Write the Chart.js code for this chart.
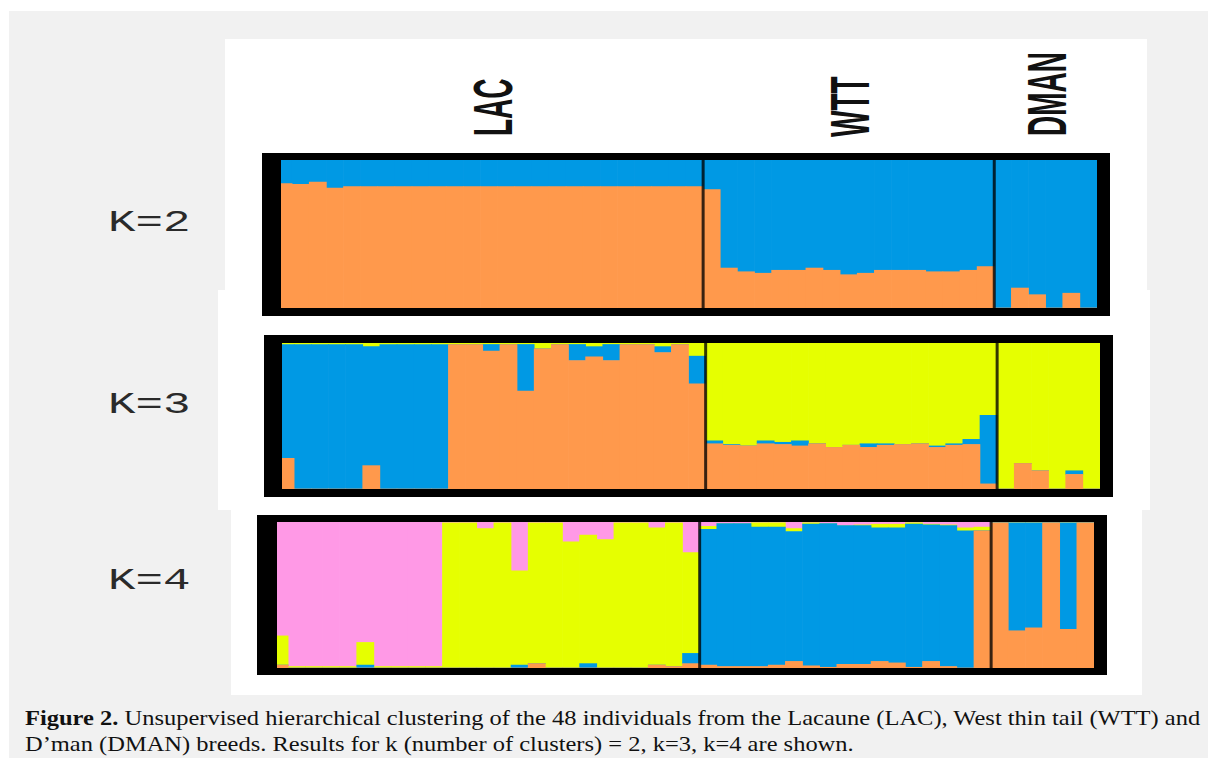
<!DOCTYPE html>
<html>
<head>
	<title>Unsupervised hierarchical clustering, K=2..4</title>
	<script src="https://cdn.jsdelivr.net/npm/chart.js@4.4.0/dist/chart.umd.min.js"></script>
	<style>
		html, body { margin: 0; padding: 0; background: white; width: 1208px; height: 758px; overflow: hidden; }
		#bg { position: absolute; left: 9px; top: 11px; right: 0; bottom: 0; background: #f1f1f1; }
		.white { position: absolute; background: white; }
		.panel { position: absolute; }
		.klabel {
			position: absolute; left: 108px;
			font-family: "Liberation Mono", "Courier New", monospace;
			font-size: 29px; line-height: 29px; color: #2a2a2a;
			transform-origin: 0 0; transform: scaleX(1.58); white-space: nowrap;
		}
		.group {
			position: absolute;
			font-family: "Liberation Sans", Arial, sans-serif; font-weight: bold;
			font-size: 28px; line-height: 28px; color: #111; white-space: nowrap;
			transform-origin: 0 0; transform: scaleX(2.0) rotate(-90deg) translateY(-50%);
		}
		.caption {
			position: absolute; left: 25px;
			font-family: "Liberation Serif", "Times New Roman", serif;
			font-size: 21px; line-height: 21px; color: #111; white-space: nowrap;
			transform-origin: 0 0;
		}
	</style>
</head>
<body>
	<div id="bg"></div>
	<div class="white" style="left:225px;top:39px;width:922px;height:251px"></div>
	<div class="white" style="left:218px;top:290px;width:932px;height:220px"></div>
	<div class="white" style="left:231px;top:510px;width:911px;height:185px"></div>

	<div class="klabel" style="top:209px">K=2</div>
	<div class="klabel" style="top:391px">K=3</div>
	<div class="klabel" style="top:567px">K=4</div>

	<div class="group" style="left:494px;top:136px">LAC</div>
	<div class="group" style="left:851px;top:137px">WTT</div>
	<div class="group" style="left:1048px;top:136px">DMAN</div>

	<div class="panel" style="left:262px;top:153px;width:848px;height:163px"><canvas id="k2"></canvas></div>
	<div class="panel" style="left:264px;top:335px;width:849px;height:162px"><canvas id="k3"></canvas></div>
	<div class="panel" style="left:257px;top:515px;width:850px;height:160px"><canvas id="k4"></canvas></div>

	<div class="caption" id="cap1" style="top:708px"><b>Figure 2.</b> Unsupervised hierarchical clustering of the 48 individuals from the Lacaune (LAC), West thin tail (WTT) and</div>
	<div class="caption" id="cap2" style="top:734px">D’man (DMAN) breeds. Results for k (number of clusters) = 2, k=3, k=4 are shown.</div>
</body>
<script>
	// breeds, in plot order
	const groupNames = ['LAC', 'WTT', 'DMAN'];
	const groupSizes = [25, 17, 6];

	const ORANGE = '#ff994c', BLUE = '#0099e4', YELLOW = '#e6ff00', PINK = '#ff99e6';

	// K=2 membership (rows: LAC / WTT / DMAN)
	const k2Orange = [
		.84,.835,.85,.81,.82,.82,.82,.82,.82,.82,.82,.82,.82,.82,.82,.82,.82,.82,.82,.82,.82,.82,.82,.82,.82,
		.80,.27,.245,.235,.255,.255,.27,.255,.225,.235,.255,.255,.255,.245,.245,.255,.28,
		0,.135,.09,0,.10,0];
	const k2Blue = [
		.16,.165,.15,.19,.18,.18,.18,.18,.18,.18,.18,.18,.18,.18,.18,.18,.18,.18,.18,.18,.18,.18,.18,.18,.18,
		.20,.73,.755,.765,.745,.745,.73,.745,.775,.765,.745,.745,.745,.755,.755,.745,.72,
		1,.865,.91,1,.90,1];

	// K=3
	const k3Orange = [
		.21,0,0,0,0,.16,0,0,0,0,.99,.99,.945,.99,.67,.96,.99,.88,.905,.88,.99,.99,.935,.99,.72,
		.31,.30,.295,.31,.305,.295,.31,.285,.30,.285,.30,.305,.31,.285,.30,.305,.035,
		0,.175,.125,0,.10,0];
	const k3Blue = [
		.78,.99,.99,.99,.99,.815,.99,.99,.99,.99,0,0,.045,0,.32,0,0,.11,.07,.11,0,0,.04,0,.19,
		.02,.005,0,.02,.015,.035,0,0,0,.025,.01,0,0,.01,.01,.035,.47,
		0,0,0,0,.025,0];
	const k3Yellow = [
		.01,.01,.01,.01,.01,.025,.01,.01,.01,.01,.01,.01,.01,.01,.01,.04,.01,.01,.025,.01,.01,.01,.025,.01,.09,
		.67,.695,.705,.67,.68,.67,.69,.715,.70,.69,.69,.695,.69,.705,.69,.66,.495,
		1,.825,.875,1,.875,1];

	// K=4
	const k4Orange = [
		.02,0,0,0,0,0,0,0,0,0,0,0,0,0,0,.03,0,0,0,0,0,0,.02,.01,.03,
		.02,.01,.01,.01,.02,.045,.015,.005,.025,.025,.045,.035,.005,.045,.01,0,.94,
		.995,.255,.275,.995,.265,.995];
	const k4Blue = [
		0,0,0,0,0,.02,0,0,0,0,0,0,0,0,.02,0,0,0,.03,0,0,0,0,0,.07,
		.93,.98,.98,.955,.945,.89,.97,.985,.95,.95,.915,.925,.98,.935,.965,.94,0,
		0,.74,.72,0,.73,0];
	const k4Yellow = [
		.20,.01,.01,.01,.01,.155,.01,.01,.01,.01,.995,.995,.955,.995,.645,.965,.995,.865,.88,.88,.995,.995,.94,.985,.69,
		.02,0,0,.03,.03,.02,.01,0,0,.005,.025,.025,.01,.005,.005,.02,.025,
		0,0,0,0,0,0];
	const k4Pink = [
		.78,.99,.99,.99,.99,.825,.99,.99,.99,.99,.005,.005,.045,.005,.335,.005,.005,.135,.09,.12,.005,.005,.04,.005,.21,
		.03,.01,.01,.005,.005,.045,.005,.01,.025,.02,.015,.015,.005,.015,.02,.04,.035,
		.005,.005,.005,.005,.005,.005];

	// one label per individual, LAC1..DMAN6
	const individuals = [];
	groupNames.forEach((g, gi) => {
		for (let i = 1; i <= groupSizes[gi]; i++) individuals.push(g + i);
	});
	const groupEnds = [groupSizes[0], groupSizes[0] + groupSizes[1]];

	// thick black frame + thin breed separators on top of the bars
	const framePlugin = {
		id: 'frame',
		afterDraw(chart, args, opts) {
			const ctx = chart.ctx, a = chart.chartArea, w = chart.width, h = chart.height;
			const xs = chart.scales.x;
			ctx.save();
			ctx.fillStyle = '#000';
			ctx.fillRect(0, 0, opts.left, h);
			ctx.fillRect(0, 0, w, a.top);
			ctx.fillRect(0, a.bottom, w, h - a.bottom);
			ctx.fillRect(a.right, 0, w - a.right, h);
			ctx.strokeStyle = 'rgba(0,0,0,0.78)';
			ctx.lineWidth = 3;
			groupEnds.forEach(b => {
				const px = (xs.getPixelForValue(b - 1) + xs.getPixelForValue(b)) / 2;
				ctx.beginPath();
				ctx.moveTo(px, a.top);
				ctx.lineTo(px, a.bottom);
				ctx.stroke();
			});
			ctx.restore();
		}
	};

	function structurePlot(id, series, pad, leftBorder) {
		return new Chart(document.getElementById(id), {
			type: 'bar',
			data: {
				labels: individuals,
				datasets: series.map(s => ({
					data: s[0],
					backgroundColor: s[1],
					borderWidth: 0,
					barPercentage: 1.0,
					categoryPercentage: 1.0,
					stack: 'q'
				}))
			},
			options: {
				responsive: true,
				maintainAspectRatio: false,
				animation: false,
				events: [],
				layout: { padding: pad },
				scales: {
					x: { display: false, stacked: true },
					y: { display: false, stacked: true, min: 0, max: 1 }
				},
				plugins: {
					legend: { display: false },
					tooltip: { enabled: false },
					frame: { left: leftBorder }
				}
			},
			plugins: [framePlugin]
		});
	}

	structurePlot('k2', [[k2Orange, ORANGE], [k2Blue, BLUE]],
		{ left: 13, right: 13, top: 7, bottom: 8 }, 19);
	structurePlot('k3', [[k3Orange, ORANGE], [k3Blue, BLUE], [k3Yellow, YELLOW]],
		{ left: 13, right: 13, top: 8, bottom: 8 }, 18);
	structurePlot('k4', [[k4Orange, ORANGE], [k4Blue, BLUE], [k4Yellow, YELLOW], [k4Pink, PINK]],
		{ left: 14, right: 13, top: 7, bottom: 7 }, 20);

	// stretch the caption lines to the width of the printed figure
	const cap1 = document.getElementById('cap1'), cap2 = document.getElementById('cap2');
	const sx = 1175 / cap1.scrollWidth;
	cap1.style.transform = 'scaleX(' + sx + ')';
	cap2.style.transform = 'scaleX(' + sx + ')';
</script>
</html>
